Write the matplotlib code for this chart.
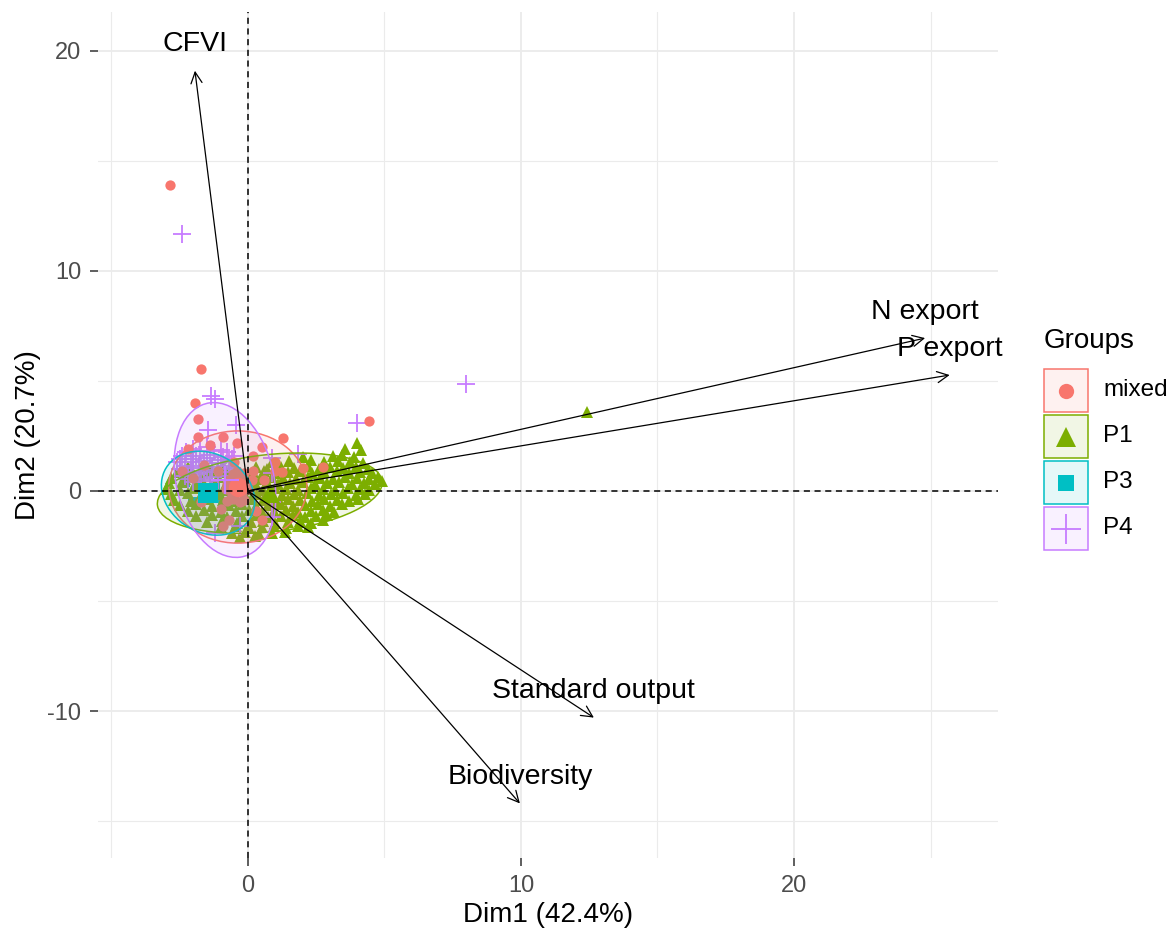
import matplotlib
matplotlib.use("Agg")
import matplotlib.pyplot as plt
from matplotlib.patches import Ellipse, Rectangle
from matplotlib.colors import to_rgba

plt.rcParams['font.family'] = ['Liberation Sans', 'DejaVu Sans']
plt.rcParams['axes.unicode_minus'] = False

# groups and their look (ggplot default hue palette)
groups = ['mixed', 'P1', 'P3', 'P4']
colors = {'mixed': '#F8766D', 'P1': '#7CAE00', 'P3': '#00BFC4', 'P4': '#C77CFF'}
markers = {'mixed': 'o', 'P1': '^', 'P3': 's', 'P4': '+'}

# individuals (Dim1, Dim2)
mixed_points = [(-2.86, 13.9), (-1.72, 5.55), (-1.94, 4.0), (-1.83, 3.27), (-1.83, 2.45),
                (-0.92, 2.45), (1.28, 2.4), (4.43, 3.18), (2.75, 1.1), (1.25, 0.86), (2.0, 1.05),
                (-1.4, 2.1), (-0.4, 2.2), (0.5, 2.0), (-2.2, 1.9), (0.2, 1.6), (1.0, 1.3),
                (-0.7, 0.5), (-0.5, 0.2), (-0.3, 0.6), (-0.6, -0.2), (-0.2, -0.1), (-0.4, 0.9),
                (-0.1, 0.3), (-0.8, 0.1), (-0.3, -0.5), (-1.1, 0.9), (-1.6, 1.2), (-1.0, -0.8),
                (0.3, -0.9), (-0.7, -1.3), (-1.7, -0.5), (0.6, 0.5), (-2.0, 0.6), (-2.4, 0.9),
                (-0.5, 1.3), (-0.55, 0.75), (-0.15, 0.8), (-0.75, 0.3), (-0.35, 0.4), (0.0, 0.1),
                (-0.5, -0.35), (-0.15, -0.4), (-0.75, -0.45), (-0.3, 0.0), (0.15, 0.5), (0.2, 0.9),
                (1.0, 0.9), (-0.9, -1.6), (0.5, -1.3)]

p1_points = [(4.0, 2.2), (3.55, 1.9), (4.15, 1.85),
             (2.0, 1.55), (3.1, 1.6), (3.45, 1.65), (3.9, 1.55),
             (0.9, 1.3), (1.5, 1.35), (2.3, 1.4), (2.8, 1.3), (3.3, 1.35), (3.75, 1.3), (4.2, 1.25),
             (-2.2, 1.1), (-1.6, 1.15), (-0.9, 1.05), (0.3, 1.1), (0.7, 1.0), (1.2, 1.1), (1.7, 1.05),
             (2.2, 1.15), (2.6, 1.0), (3.0, 1.1), (3.5, 1.05), (3.95, 1.1), (4.4, 1.0),
             (-2.6, 0.85), (-2.0, 0.8), (-1.4, 0.9), (-0.8, 0.85), (-0.3, 0.8), (0.2, 0.85), (0.6, 0.9),
             (1.0, 0.8), (1.45, 0.85), (1.9, 0.9), (2.35, 0.8), (2.8, 0.85), (3.25, 0.9), (3.7, 0.8),
             (4.1, 0.85), (4.55, 0.8),
             (-2.8, 0.6), (-2.3, 0.55), (-1.7, 0.6), (-1.1, 0.65), (-0.5, 0.55), (0.0, 0.6), (0.45, 0.55),
             (0.9, 0.65), (1.3, 0.6), (1.75, 0.55), (2.2, 0.65), (2.65, 0.6), (3.1, 0.55), (3.55, 0.65),
             (4.0, 0.6), (4.45, 0.55), (4.75, 0.65),
             (-2.9, 0.35), (-2.4, 0.4), (-1.9, 0.3), (-1.3, 0.35), (-0.7, 0.4), (-0.2, 0.3), (0.25, 0.35),
             (0.7, 0.4), (1.1, 0.3), (1.55, 0.35), (2.0, 0.4), (2.45, 0.3), (2.9, 0.35), (3.35, 0.4),
             (3.8, 0.3), (4.25, 0.35), (4.65, 0.3), (4.9, 0.45),
             (-3.0, 0.1), (-2.5, 0.05), (-2.0, 0.15), (-1.4, 0.1), (-0.9, 0.05), (-0.4, 0.15), (0.1, 0.1),
             (0.55, 0.05), (1.0, 0.15), (1.4, 0.1), (1.85, 0.05), (2.3, 0.15), (2.75, 0.1), (3.2, 0.05),
             (3.65, 0.15), (4.1, 0.1), (4.45, 0.05),
             (-2.8, -0.15), (-2.2, -0.1), (-1.7, -0.2), (-1.1, -0.15), (-0.6, -0.1), (-0.1, -0.2),
             (0.35, -0.15), (0.8, -0.1), (1.25, -0.2), (1.7, -0.15), (2.15, -0.1), (2.6, -0.2),
             (3.05, -0.15), (3.5, -0.1), (3.95, -0.2), (4.3, -0.15),
             (-2.7, -0.4), (-2.1, -0.45), (-1.5, -0.35), (-0.9, -0.4), (-0.4, -0.45), (0.1, -0.35),
             (0.55, -0.4), (1.0, -0.45), (1.45, -0.35), (1.9, -0.4), (2.35, -0.45), (2.8, -0.35),
             (3.25, -0.4), (3.7, -0.45), (4.05, -0.35),
             (-2.5, -0.65), (-1.9, -0.6), (-1.3, -0.7), (-0.7, -0.65), (-0.2, -0.6), (0.3, -0.7),
             (0.75, -0.65), (1.2, -0.6), (1.65, -0.7), (2.1, -0.65), (2.55, -0.6), (3.0, -0.7), (3.45, -0.6),
             (-2.2, -0.9), (-1.6, -0.85), (-1.0, -0.95), (-0.45, -0.9), (0.05, -0.85), (0.5, -0.95),
             (0.95, -0.9), (1.4, -0.85), (1.85, -0.95), (2.3, -0.9), (2.75, -0.85), (3.15, -0.95),
             (-1.9, -1.15), (-1.3, -1.1), (-0.75, -1.2), (-0.2, -1.15), (0.3, -1.1), (0.75, -1.2),
             (1.2, -1.15), (1.65, -1.1), (2.1, -1.2), (2.5, -1.15), (2.9, -1.1),
             (-1.5, -1.4), (-0.95, -1.35), (-0.4, -1.45), (0.1, -1.4), (0.55, -1.35), (1.0, -1.45),
             (1.45, -1.4), (1.9, -1.35), (2.3, -1.45), (2.75, -1.3),
             (-1.0, -1.65), (-0.45, -1.6), (0.05, -1.7), (0.5, -1.65), (0.95, -1.6), (1.4, -1.7),
             (1.85, -1.6), (2.2, -1.65),
             (-0.6, -1.9), (-0.1, -1.85), (0.4, -1.95), (0.9, -1.9), (1.35, -1.85),
             (-0.3, -2.1), (0.25, -2.05),
             (12.4, 3.6)]

p3_points = [(-1.5, 0.0), (-1.3, -0.25), (-1.7, 0.2), (-1.2, 0.15), (-1.6, -0.3), (-2.0, -0.5),
             (-0.9, -0.6), (-2.3, 0.4)]

p4_points = [(-2.4, 11.7), (8.0, 4.86), (-1.2, 4.2), (-1.35, 4.3), (4.0, 3.1), (-0.45, 3.0),
             (-1.45, 2.75), (1.85, 1.7), (0.9, 1.5),
             (-2.0, 1.9), (-1.5, 2.0), (-1.0, 1.85), (-2.4, 1.6), (-1.9, 1.6), (-1.4, 1.65), (-0.9, 1.55),
             (-0.5, 1.6), (-2.6, 1.3), (-2.1, 1.3), (-1.6, 1.35), (-1.1, 1.25), (-0.7, 1.3), (-2.5, 1.0),
             (-2.0, 1.05), (-1.5, 0.95), (-1.0, 1.0), (-0.6, 1.05), (-2.3, 0.7), (-1.8, 0.75),
             (-1.3, 0.65), (-0.8, 0.7), (-2.0, 0.4), (-1.4, 0.45), (0.9, 0.8), (0.9, -0.5), (0.9, -1.2),
             (-0.3, -1.6), (-1.2, -1.9),
             (-2.25, 1.75), (-1.75, 1.8), (-1.25, 1.8), (-0.75, 1.75), (-2.5, 1.45), (-2.0, 1.45),
             (-1.5, 1.5), (-1.0, 1.4), (-0.6, 1.45), (-2.3, 1.15), (-1.8, 1.15), (-1.3, 1.1),
             (-0.85, 1.15), (-2.1, 0.85), (-1.6, 0.85), (-1.1, 0.85), (-0.65, 0.85), (-1.7, 0.55),
             (-1.1, 0.5), (-2.2, 0.55)]

points = {'mixed': mixed_points, 'P1': p1_points, 'P3': p3_points, 'P4': p4_points}
draw_order = ['P3', 'P1', 'P4', 'mixed']

# group means and concentration ellipses (center, full width, full height, angle in deg)
group_means = {'mixed': (-0.37, 0.18), 'P1': (0.8, -0.1), 'P3': (-1.46, -0.1), 'P4': (-0.84, 0.5)}
ellipse_width = {'mixed': 5.06, 'P1': 8.3, 'P3': 4.0, 'P4': 7.1}
ellipse_height = {'mixed': 5.1, 'P1': 3.5, 'P3': 3.2, 'P4': 3.6}
ellipse_angle = {'mixed': 0, 'P1': 8, 'P3': 120, 'P4': 98.9}

# variable arrows
variables = ['CFVI', 'N export', 'P export', 'Standard output', 'Biodiversity']
var_dim1 = [-1.94, 24.8, 25.7, 12.67, 9.96]
var_dim2 = [19.1, 6.95, 5.27, -10.3, -14.2]

W, H = 1176, 936
fig = plt.figure(figsize=(W / 100, H / 100), dpi=100)
ax = fig.add_axes([98 / W, 1 - 858 / H, 900 / W, 846 / H])

point_size = {'o': 7.4, '^': 9, 's': 7}
for g in draw_order:
    xs = [p[0] for p in points[g]]
    ys = [p[1] for p in points[g]]
    if markers[g] == '+':
        ax.plot(xs, ys, ls='none', marker='+', ms=13, mew=1.3, color=colors[g], zorder=3)
    else:
        ax.plot(xs, ys, ls='none', marker=markers[g], ms=point_size[markers[g]], mew=0,
                color=colors[g], zorder=3)

for g in groups:
    e = Ellipse(group_means[g], ellipse_width[g], ellipse_height[g], angle=ellipse_angle[g],
                facecolor=to_rgba(colors[g], 0.1), edgecolor=colors[g], lw=1.1, zorder=4)
    ax.add_patch(e)

for g in groups:
    mx, my = group_means[g]
    if markers[g] == '+':
        ax.plot(mx, my, marker='+', ms=20, mew=1.5, color=colors[g], zorder=5)
    else:
        ax.plot(mx, my, marker=markers[g], ms=14, mew=0, color=colors[g], zorder=5)

ax.axhline(0, color='black', ls=(0, (4, 3)), lw=1.1, zorder=6)
ax.axvline(0, color='black', ls=(0, (4, 3)), lw=1.1, zorder=6)

for name, vx, vy in zip(variables, var_dim1, var_dim2):
    ax.annotate('', xy=(vx, vy), xytext=(0, 0),
                arrowprops=dict(arrowstyle='->', lw=0.9, color='black', shrinkA=0, shrinkB=0,
                                mutation_scale=20), zorder=7)
    ax.annotate(name, xy=(vx, vy), xytext=(0, 19), textcoords='offset points',
                ha='center', va='center', fontsize=20.5, color='black', zorder=8)

ax.set_xlim(-5.49, 27.47)
ax.set_ylim(-16.68, 21.77)
ax.set_xticks([0, 10, 20])
ax.set_yticks([-10, 0, 10, 20])
ax.set_xticks([-5, 5, 15, 25], minor=True)
ax.set_yticks([-15, -5, 5, 15], minor=True)
ax.grid(which='major', color='#EBEBEB', lw=1.3)
ax.grid(which='minor', color='#EBEBEB', lw=0.8)
ax.set_axisbelow(True)
ax.tick_params(which='major', length=6, width=1.1, color='#333333', labelcolor='#4D4D4D',
               labelsize=17, pad=6)
ax.tick_params(which='minor', length=0)
for s in ax.spines.values():
    s.set_visible(False)

fig.text(548 / W, 1 - 915 / H, 'Dim1 (42.4%)', ha='center', va='center', fontsize=20)
fig.text(28 / W, 1 - 435 / H, 'Dim2 (20.7%)', ha='center', va='center', fontsize=20, rotation=90)

# legend drawn in pixel space
lax = fig.add_axes([0, 0, 1, 1])
lax.set_xlim(0, W)
lax.set_ylim(H, 0)
lax.axis('off')
lax.text(1044, 341, 'Groups', ha='left', va='center', fontsize=20)
key_size = {'o': 11, '^': 14, 's': 12, '+': 22}
for i, g in enumerate(groups):
    top = 369 + i * 46
    lax.add_patch(Rectangle((1044, top), 44, 43, facecolor=to_rgba(colors[g], 0.1),
                            edgecolor=colors[g], lw=1.1))
    cy = top + 21.5
    if markers[g] == '+':
        lax.plot(1066, cy, marker='+', ms=key_size['+'], mew=1.3, color=colors[g])
    else:
        lax.plot(1066, cy, marker=markers[g], ms=key_size[markers[g]], mew=0, color=colors[g])
    lax.text(1103, cy, g, ha='left', va='center', fontsize=17.5)

fig.savefig('out.png', dpi=100)
